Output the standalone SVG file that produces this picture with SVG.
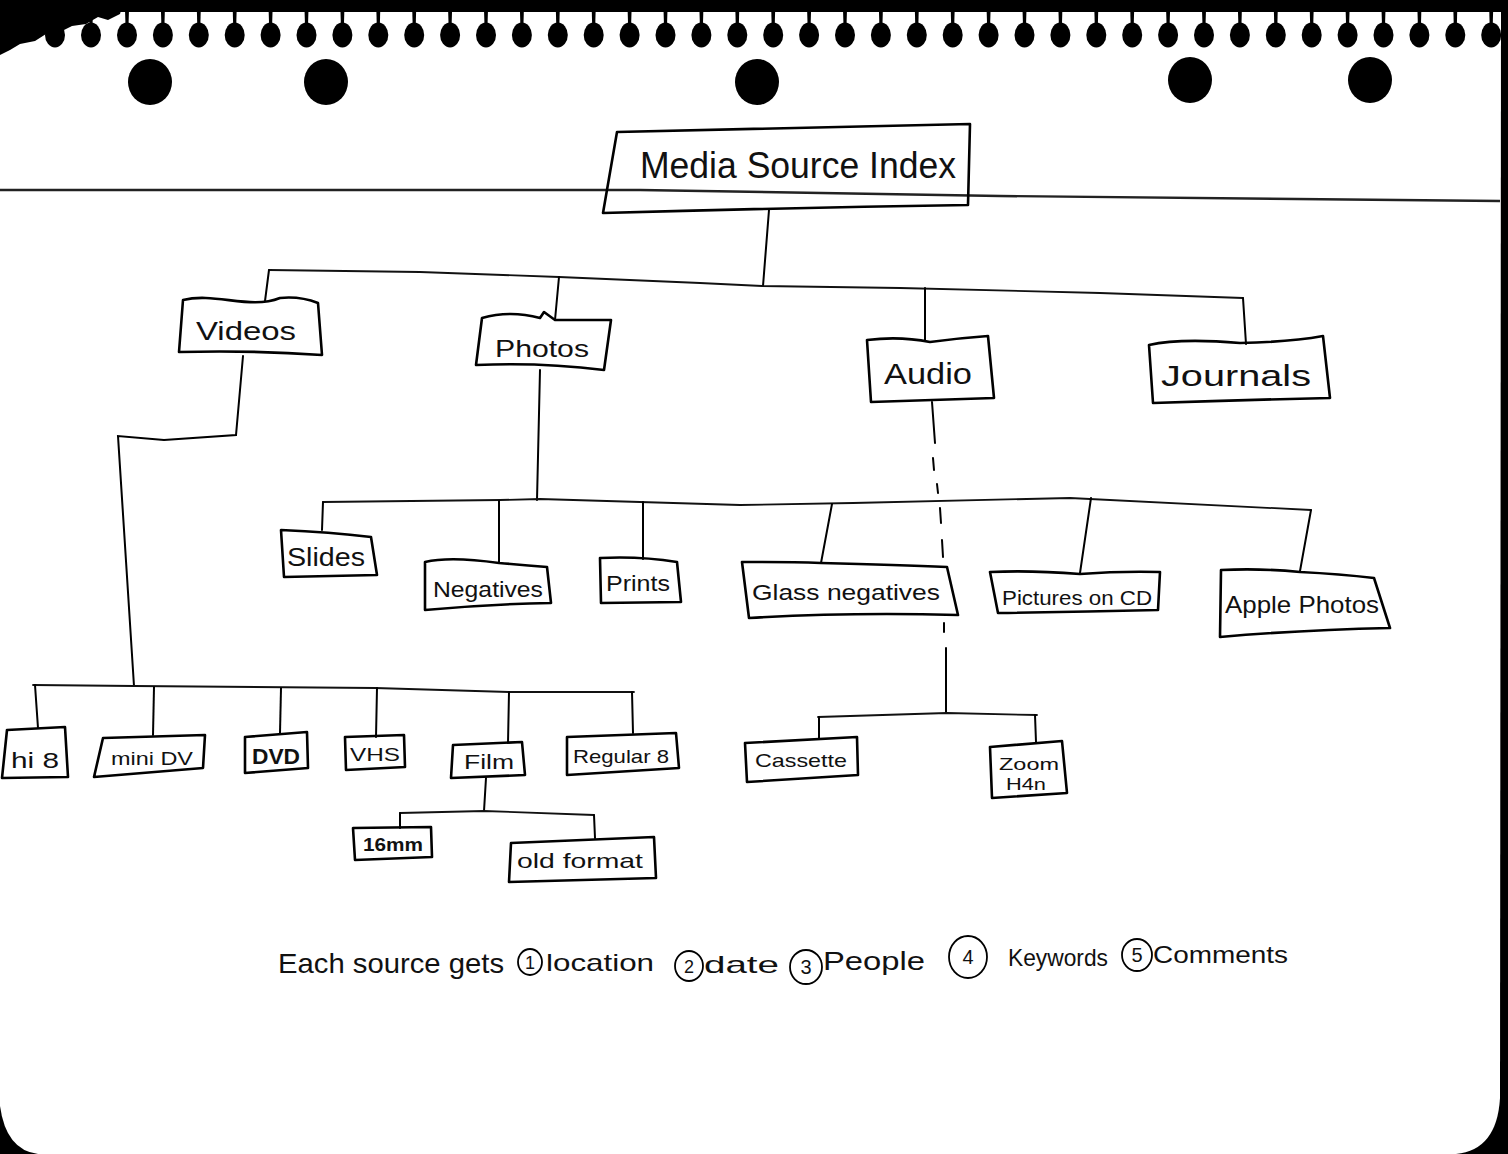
<svg xmlns="http://www.w3.org/2000/svg" width="1508" height="1154" viewBox="0 0 1508 1154">
<style>
.box{fill:none;stroke:#000;stroke-width:2.6;stroke-linejoin:round}
.wire{fill:none;stroke:#000;stroke-width:2;stroke-linecap:round}
.bus{fill:none;stroke:#111;stroke-width:1.8;stroke-linecap:round}
.lbl{font-family:"Liberation Sans","DejaVu Sans",sans-serif;fill:#111;text-anchor:middle}
.note{font-family:"Liberation Sans","DejaVu Sans",sans-serif;fill:#111}
.ring{fill:none;stroke:#000;stroke-width:1.8}
</style>
<defs>
<g id="hole">
<ellipse cx="0" cy="35" rx="10" ry="12.5" fill="#000"/>
<path d="M-2,9 L2,9 L1.5,26 L-1.5,26 Z" fill="#000"/>
</g>
<ellipse id="bighole" cx="0" cy="0" rx="22" ry="23" fill="#000"/>
</defs>

<!-- paper -->
<rect x="0" y="0" width="1508" height="1154" fill="#000"/>
<path d="M0,12 L1501,12 L1500,1098 Q1497,1150 1456,1154 L38,1154 Q6,1150 0,1106 Z" fill="#fff"/>
<path d="M0,0 L124,0 L120,14 L108,20 L98,17 L86,24 L72,26 L60,32 L46,34 L35,41 L20,44 L10,50 L0,55 Z" fill="#000"/>

<g id="spiral">
<use href="#hole" x="55"/><use href="#hole" x="91"/>
<use href="#hole" x="127"/><use href="#hole" x="162.9"/><use href="#hole" x="198.8"/><use href="#hole" x="234.7"/>
<use href="#hole" x="270.6"/><use href="#hole" x="306.5"/><use href="#hole" x="342.4"/><use href="#hole" x="378.3"/>
<use href="#hole" x="414.2"/><use href="#hole" x="450.1"/><use href="#hole" x="486"/><use href="#hole" x="521.9"/>
<use href="#hole" x="557.8"/><use href="#hole" x="593.7"/><use href="#hole" x="629.6"/><use href="#hole" x="665.5"/>
<use href="#hole" x="701.4"/><use href="#hole" x="737.3"/><use href="#hole" x="773.2"/><use href="#hole" x="809.1"/>
<use href="#hole" x="845"/><use href="#hole" x="880.9"/><use href="#hole" x="916.8"/><use href="#hole" x="952.7"/>
<use href="#hole" x="988.6"/><use href="#hole" x="1024.5"/><use href="#hole" x="1060.4"/><use href="#hole" x="1096.3"/>
<use href="#hole" x="1132.2"/><use href="#hole" x="1168.1"/><use href="#hole" x="1204"/><use href="#hole" x="1239.9"/>
<use href="#hole" x="1275.8"/><use href="#hole" x="1311.7"/><use href="#hole" x="1347.6"/><use href="#hole" x="1383.5"/>
<use href="#hole" x="1419.4"/><use href="#hole" x="1455.3"/><use href="#hole" x="1491.2"/>
<use href="#bighole" x="150" y="82"/><use href="#bighole" x="326" y="82"/><use href="#bighole" x="757" y="82"/>
<use href="#bighole" x="1190" y="80"/><use href="#bighole" x="1370" y="80"/>
</g>

<!-- ruled line of the paper -->
<path d="M0,190 L640,190 L1000,196 L1500,201" fill="none" stroke="#222" stroke-width="2.4"/>

<g id="connectors">
<path class="wire" d="M769,210 L763,286"/>
<path class="bus" d="M269,270 L420,272 L559,277 L700,283 L762,286 L900,288 L1100,293 L1243,298"/>
<path class="wire" d="M269,270 L265,301"/>
<path class="wire" d="M559,277 L555,320"/>
<path class="wire" d="M925,288 L925,341"/>
<path class="wire" d="M1243,298 L1246,344"/>
<!-- videos branch -->
<path class="wire" d="M243,356 L236,435 L164,440 L118,436 L134,686"/>
<path class="bus" d="M33,685 L134,686 L375,688 L509,692 L634,692"/>
<path class="wire" d="M35,685 L38,728"/>
<path class="wire" d="M154,687 L153,735"/>
<path class="wire" d="M281,688 L280,733" stroke-width="2.6"/>
<path class="wire" d="M377,688 L376,737"/>
<path class="wire" d="M509,692 L508,743"/>
<path class="wire" d="M632,692 L633,733"/>
<path class="wire" d="M486,778 L484,811"/>
<path class="bus" d="M400,813 L484,811 L594,815"/>
<path class="wire" d="M400,813 L400,828"/>
<path class="wire" d="M594,815 L595,838"/>
<!-- photos branch -->
<path class="wire" d="M540,370 L537,500"/>
<path class="bus" d="M323,502 L500,500 L540,499 L740,505 L853,503 L1070,498 L1311,510"/>
<path class="wire" d="M323,502 L322,530"/>
<path class="wire" d="M499,501 L499,563"/>
<path class="wire" d="M643,502 L643,559"/>
<path class="wire" d="M832,504 L821,563"/>
<path class="wire" d="M1091,498 L1080,573"/>
<path class="wire" d="M1311,510 L1300,571"/>
<!-- audio branch -->
<path class="wire" d="M932,402 L935,443"/>
<path class="wire" d="M933,458 L934,470 M937,484 L938,493 M940,508 L941,523 M942,540 L943,557 M944,623 L944,632"/>
<path class="wire" d="M946,648 L946,713"/>
<path class="bus" d="M818,717 L947,713 L1037,715"/>
<path class="wire" d="M819,717 L819,738"/>
<path class="wire" d="M1035,715 L1036,742"/>
</g>

<g id="n-title">
<path class="box" d="M617,132 Q800,128 970,124 L968,205 Q780,208 603,213 Z"/>
<text class="lbl" x="798" y="178" font-size="36" textLength="316" lengthAdjust="spacingAndGlyphs">Media Source Index</text>
</g>
<g id="n-videos">
<path class="box" d="M183,300 C215,292 250,310 280,298 Q300,296 318,303 L322,355 Q250,350 179,352 Z"/>
<text class="lbl" x="246" y="340" font-size="26" textLength="100" lengthAdjust="spacingAndGlyphs">Videos</text>
</g>
<g id="n-photos">
<path class="box" d="M482,318 Q510,310 540,318 L544,312 L555,320 L611,320 L604,370 Q540,362 476,365 Z"/>
<text class="lbl" x="542" y="357" font-size="24" textLength="94" lengthAdjust="spacingAndGlyphs">Photos</text>
</g>
<g id="n-audio">
<path class="box" d="M867,340 Q900,336 930,342 Q960,338 988,336 L994,398 Q930,400 871,402 Z"/>
<text class="lbl" x="928" y="384" font-size="30" textLength="88" lengthAdjust="spacingAndGlyphs">Audio</text>
</g>
<g id="n-journals">
<path class="box" d="M1149,345 Q1180,338 1240,343 Q1290,342 1323,336 L1330,398 Q1240,400 1153,403 Z"/>
<text class="lbl" x="1236" y="386" font-size="30" textLength="150" lengthAdjust="spacingAndGlyphs">Journals</text>
</g>
<g id="n-slides">
<path class="box" d="M281,530 Q330,532 371,537 L377,575 L284,577 Z"/>
<text class="lbl" x="326" y="566" font-size="26" textLength="78" lengthAdjust="spacingAndGlyphs">Slides</text>
</g>
<g id="n-negatives">
<path class="box" d="M425,562 Q450,556 499,563 Q525,565 547,567 L551,603 Q490,604 425,610 Z"/>
<text class="lbl" x="488" y="597" font-size="22" textLength="110" lengthAdjust="spacingAndGlyphs">Negatives</text>
</g>
<g id="n-prints">
<path class="box" d="M600,558 Q640,556 677,562 L681,602 L601,603 Z"/>
<text class="lbl" x="638" y="591" font-size="22" textLength="64" lengthAdjust="spacingAndGlyphs">Prints</text>
</g>
<g id="n-glass">
<path class="box" d="M742,562 Q790,562 821,563 Q900,565 947,567 L958,615 Q850,612 749,618 Z"/>
<text class="lbl" x="846" y="600" font-size="22" textLength="188" lengthAdjust="spacingAndGlyphs">Glass negatives</text>
</g>
<g id="n-cd">
<path class="box" d="M990,572 Q1030,570 1080,574 Q1120,571 1160,572 L1158,610 Q1080,612 998,613 Z"/>
<text class="lbl" x="1077" y="605" font-size="20" textLength="150" lengthAdjust="spacingAndGlyphs">Pictures on CD</text>
</g>
<g id="n-apple">
<path class="box" d="M1221,570 Q1260,568 1300,572 Q1340,574 1374,578 L1390,628 Q1300,630 1220,637 Z"/>
<text class="lbl" x="1302" y="613" font-size="24" textLength="154" lengthAdjust="spacingAndGlyphs">Apple Photos</text>
</g>
<g id="n-hi8">
<path class="box" d="M7,730 L65,727 L68,777 L2,778 Z"/>
<text class="lbl" x="35" y="768" font-size="22" textLength="48" lengthAdjust="spacingAndGlyphs">hi 8</text>
</g>
<g id="n-minidv">
<path class="box" d="M103,738 L205,735 L203,768 L94,777 Z"/>
<text class="lbl" x="152" y="765" font-size="18" textLength="82" lengthAdjust="spacingAndGlyphs">mini DV</text>
</g>
<g id="n-dvd">
<path class="box" d="M245,737 L307,732 L308,768 L245,773 Z" stroke-width="3.2"/>
<text class="lbl" x="276" y="764" font-size="22" font-weight="bold" textLength="48" lengthAdjust="spacingAndGlyphs">DVD</text>
</g>
<g id="n-vhs">
<path class="box" d="M345,737 L404,735 L405,767 L346,770 Z"/>
<text class="lbl" x="375" y="761" font-size="18" textLength="50" lengthAdjust="spacingAndGlyphs">VHS</text>
</g>
<g id="n-film">
<path class="box" d="M453,745 L522,742 L525,775 L451,778 Z"/>
<text class="lbl" x="489" y="769" font-size="21" textLength="50" lengthAdjust="spacingAndGlyphs">Film</text>
</g>
<g id="n-regular8">
<path class="box" d="M567,737 L676,733 L679,768 L567,775 Z"/>
<text class="lbl" x="621" y="763" font-size="19" textLength="96" lengthAdjust="spacingAndGlyphs">Regular 8</text>
</g>
<g id="n-16mm">
<path class="box" d="M353,828 L431,827 L432,857 L355,860 Z"/>
<text class="lbl" x="393" y="851" font-size="19" font-weight="bold" textLength="60" lengthAdjust="spacingAndGlyphs">16mm</text>
</g>
<g id="n-oldformat">
<path class="box" d="M511,843 L654,837 L656,878 L509,882 Z"/>
<text class="lbl" x="580" y="868" font-size="21" textLength="126" lengthAdjust="spacingAndGlyphs">old format</text>
</g>
<g id="n-cassette">
<path class="box" d="M745,743 L857,737 L858,775 L747,782 Z"/>
<text class="lbl" x="801" y="767" font-size="19" textLength="92" lengthAdjust="spacingAndGlyphs">Cassette</text>
</g>
<g id="n-zoom">
<path class="box" d="M990,747 L1062,741 L1067,793 L992,798 Z"/>
<text class="lbl" x="1029" y="770" font-size="17" textLength="60" lengthAdjust="spacingAndGlyphs">Zoom</text>
<text class="lbl" x="1026" y="790" font-size="17" textLength="40" lengthAdjust="spacingAndGlyphs">H4n</text>
</g>

<g id="footer">
<text class="note" x="278" y="973" font-size="28" textLength="226" lengthAdjust="spacingAndGlyphs">Each source gets</text>
<ellipse class="ring" cx="530" cy="962" rx="12" ry="13"/>
<text class="lbl" x="530" y="969" font-size="18">1</text>
<text class="note" x="546" y="971" font-size="24" textLength="108" lengthAdjust="spacingAndGlyphs">location</text>
<ellipse class="ring" cx="689" cy="966" rx="14" ry="15" stroke-width="1.4"/>
<text class="lbl" x="689" y="973" font-size="18">2</text>
<text class="note" x="704" y="973" font-size="24" textLength="75" lengthAdjust="spacingAndGlyphs">date</text>
<ellipse class="ring" cx="806" cy="967" rx="16" ry="17"/>
<text class="lbl" x="806" y="974" font-size="20">3</text>
<text class="note" x="823" y="970" font-size="26" textLength="102" lengthAdjust="spacingAndGlyphs">People</text>
<ellipse class="ring" cx="968" cy="957" rx="19" ry="21"/>
<text class="lbl" x="968" y="964" font-size="20">4</text>
<text class="note" x="1008" y="966" font-size="24" textLength="100" lengthAdjust="spacingAndGlyphs">Keywords</text>
<ellipse class="ring" cx="1137" cy="955" rx="15" ry="16"/>
<text class="lbl" x="1137" y="962" font-size="20">5</text>
<text class="note" x="1153" y="963" font-size="24" textLength="135" lengthAdjust="spacingAndGlyphs">Comments</text>
</g>
</svg>
